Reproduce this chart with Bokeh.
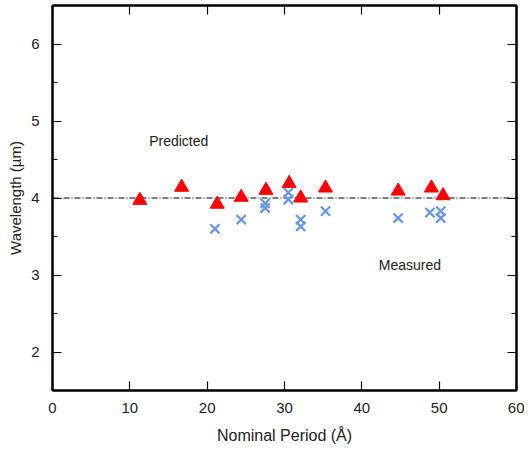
from bokeh.plotting import figure
from bokeh.models import LinearAxis, FixedTicker, Range1d, Label, CustomJSTickFormatter
from bokeh.embed import file_html
from bokeh.resources import INLINE

# Data
pred_x = [11.3, 16.7, 21.3, 24.4, 27.6, 30.6, 32.1, 35.3, 44.7, 49.0, 50.5]
pred_y = [3.97, 4.14, 3.92, 4.01, 4.10, 4.19, 4.00, 4.13, 4.09, 4.13, 4.03]
meas_x = [21.0, 24.4, 27.5, 27.5, 30.5, 30.5, 32.1, 32.1, 35.3, 44.7, 48.8, 50.2, 50.2]
meas_y = [3.60, 3.72, 3.93, 3.87, 4.07, 3.98, 3.72, 3.63, 3.83, 3.74, 3.81, 3.83, 3.74]
ref_x = [0, 60]
ref_y = [4.0, 4.0]
x_ticks = [0, 10, 20, 30, 40, 50, 60]
y_ticks = [2, 3, 4, 5, 6]
y_minor = [1.5, 2.5, 3.5, 4.5, 5.5, 6.5]

FONT = "Liberation Sans"
TXT = "#222222"

p = figure(frame_width=464, frame_height=385, output_backend="svg",
           toolbar_location=None, x_range=Range1d(0, 60), y_range=Range1d(1.5, 6.5),
           min_border_left=52, min_border_right=8, min_border_top=5, min_border_bottom=0,
           x_axis_label="Nominal Period (Å)", y_axis_label="Wavelength (µm)")
p.grid.visible = False
p.outline_line_color = "black"
p.outline_line_width = 2
p.background_fill_color = "white"
p.border_fill_color = "white"

p.xaxis.ticker = FixedTicker(ticks=x_ticks)
p.yaxis.ticker = FixedTicker(ticks=y_ticks, minor_ticks=y_minor)

for ax in list(p.xaxis) + list(p.yaxis):
    ax.major_tick_in = 9
    ax.major_tick_out = 0
    ax.minor_tick_in = 5
    ax.minor_tick_out = 0
    ax.axis_line_width = 2
    ax.major_tick_line_width = 1.2
    ax.minor_tick_line_width = 1.2
    ax.major_label_text_font = FONT
    ax.major_label_text_font_size = "15px"
    ax.major_label_text_color = TXT
    ax.axis_label_text_font = FONT
    ax.axis_label_text_font_style = "normal"
    ax.axis_label_text_color = TXT
p.xaxis.axis_label_text_font_size = "16px"
p.yaxis.axis_label_text_font_size = "15px"
p.xaxis.minor_tick_in = 0
p.xaxis.major_label_standoff = 12
p.xaxis.axis_label_standoff = 11
p.yaxis.major_label_standoff = 13
p.yaxis.axis_label_standoff = 4

blank = CustomJSTickFormatter(code="return ''")
top = LinearAxis(ticker=FixedTicker(ticks=x_ticks), formatter=blank,
                 major_tick_in=9, major_tick_out=0, minor_tick_in=0, minor_tick_out=0,
                 axis_line_width=2, major_tick_line_width=1.2, major_label_standoff=0)
right = LinearAxis(ticker=FixedTicker(ticks=y_ticks, minor_ticks=y_minor), formatter=blank,
                   major_tick_in=9, major_tick_out=0, minor_tick_in=5, minor_tick_out=0,
                   axis_line_width=2, major_tick_line_width=1.2, minor_tick_line_width=1.2,
                   major_label_standoff=0)
p.add_layout(top, "above")
p.add_layout(right, "right")

p.line(ref_x, ref_y, line_color="black", line_width=1.2, line_dash="6 2 1 2")
p.scatter(pred_x, pred_y, marker="triangle", size=14, fill_color="#FF0000", line_color="#FF0000")
p.scatter(meas_x, meas_y, marker="x", size=13, line_color="#6495ED", line_width=2.2)

p.add_layout(Label(x=12.5, y=4.74, text="Predicted", text_font=FONT, text_font_size="14px",
                   text_color=TXT, text_baseline="middle", text_align="left"))
p.add_layout(Label(x=42.2, y=3.13, text="Measured", text_font=FONT, text_font_size="14px",
                   text_color=TXT, text_baseline="middle", text_align="left"))

open("out.html", "w").write(file_html(p, INLINE))
